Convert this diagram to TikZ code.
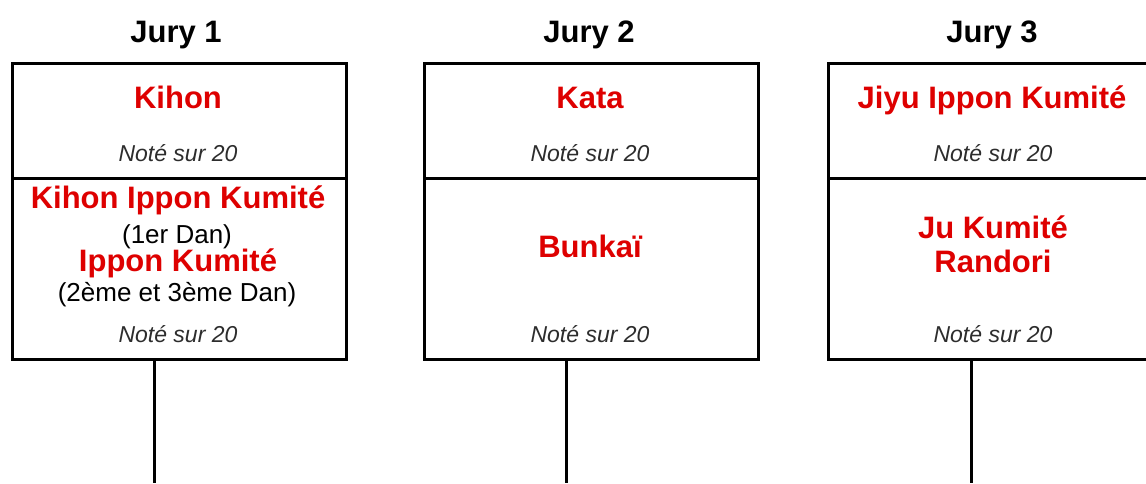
\documentclass[tikz,border=0pt]{standalone}
\usepackage{fontspec}
\setmainfont{Liberation Sans}
\definecolor{juryred}{RGB}{222,0,0}
\definecolor{notegray}{RGB}{45,45,45}
\begin{document}
\begin{tikzpicture}[x=1pt,y=-1pt,
  title/.style={anchor=base,inner sep=0,font=\fontsize{31}{36}\selectfont\bfseries,text=black},
  redtxt/.style={anchor=base,inner sep=0,font=\fontsize{31}{36}\selectfont\bfseries,text=juryred},
  subtxt/.style={anchor=base,inner sep=0,font=\fontsize{26}{30}\selectfont,text=black},
  note/.style={anchor=base,inner sep=0,font=\fontsize{23}{27}\selectfont\itshape,text=notegray},
  boxup/.style={draw=black,line width=3pt,fill=white,anchor=north west,inner sep=0,minimum width=334pt,minimum height=115pt},
  boxlow/.style={draw=black,line width=3pt,fill=white,anchor=north west,inner sep=0,minimum width=334pt,minimum height=181pt},
  stem/.style={draw=black,line width=3pt}]
\useasboundingbox (0,0) rectangle (1146,483);
\clip (0,0) rectangle (1146,483);
% Jury 1
\node[boxlow] (b1low) at (11,177) {};
\node[boxup] (b1up) at (11,62) {};
\node[title] (t1) at (176,42) {Jury 1};
\node[redtxt] (k1) at (178,108) {Kihon};
\node[note] (n1a) at (178,161) {Noté sur 20};
\node[redtxt] (k1b) at (178,208) {Kihon Ippon Kumité};
\node[subtxt] (d1a) at (177,243) {(1er Dan)};
\node[redtxt] (k1c) at (178,271) {Ippon Kumité};
\node[subtxt] (d1b) at (177,301) {(2ème et 3ème Dan)};
\node[note] (n1b) at (178,342) {Noté sur 20};
\coordinate (e1) at (154,483);
\draw[stem] (b1low.south -| e1) -- (e1);
% Jury 2
\node[boxlow] (b2low) at (423,177) {};
\node[boxup] (b2up) at (423,62) {};
\node[title] (t2) at (589,42) {Jury 2};
\node[redtxt] (k2) at (590,108) {Kata};
\node[note] (n2a) at (590,161) {Noté sur 20};
\node[redtxt] (k2b) at (590,257) {Bunkaï};
\node[note] (n2b) at (590,342) {Noté sur 20};
\coordinate (e2) at (566,483);
\draw[stem] (b2low.south -| e2) -- (e2);
% Jury 3
\node[boxlow] (b3low) at (827,177) {};
\node[boxup] (b3up) at (827,62) {};
\node[title] (t3) at (992,42) {Jury 3};
\node[redtxt] (k3) at (992,108) {Jiyu Ippon Kumité};
\node[note] (n3a) at (993,161) {Noté sur 20};
\node[redtxt] (k3b) at (993,238) {Ju Kumité};
\node[redtxt] (k3c) at (993,272) {Randori};
\node[note] (n3b) at (993,342) {Noté sur 20};
\coordinate (e3) at (971,483);
\draw[stem] (b3low.south -| e3) -- (e3);
\end{tikzpicture}
\end{document}
